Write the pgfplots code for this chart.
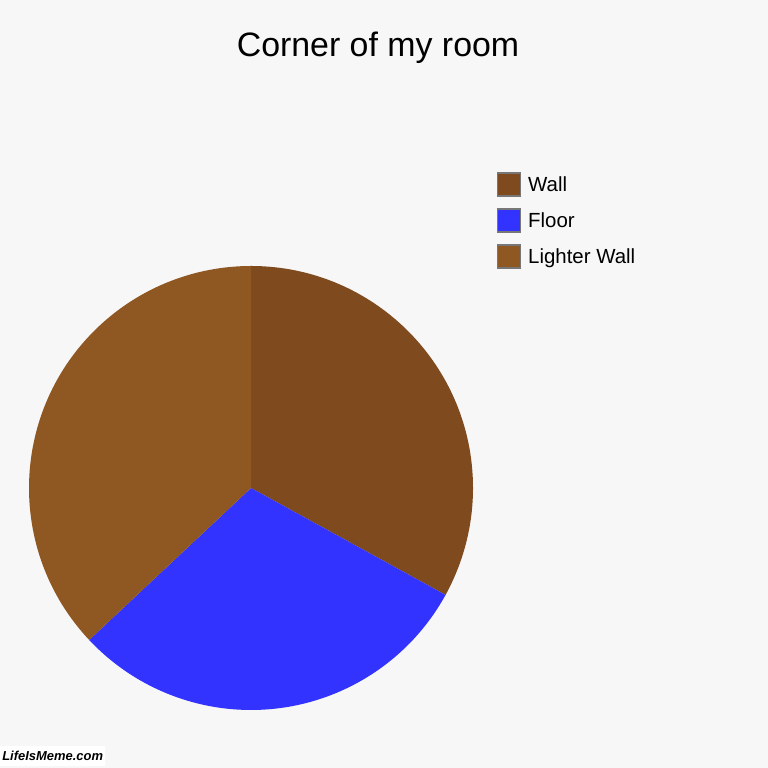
\documentclass[border=0pt]{standalone}
\usepackage{fontspec}
\setmainfont{Liberation Sans}
\usepackage{pgfplots}
\usepackage{pgfplotstable}
\pgfplotsset{compat=1.18}

\definecolor{bgc}{HTML}{F7F7F7}
\definecolor{wallc}{HTML}{7F4A1E}
\definecolor{floorc}{HTML}{3333FF}
\definecolor{lightc}{HTML}{8F5722}
\definecolor{boxc}{HTML}{777777}

% pie shares, clockwise from 12 o'clock
\pgfplotstableread{
label value color
Wall 33 wallc
Floor 30 floorc
{Lighter Wall} 37 lightc
}\piedata

\begin{document}
\begin{tikzpicture}[x=1bp,y=1bp]
\fill[bgc] (0,0) rectangle (768,768);
\begin{axis}[
    at={(0,0)}, anchor=south west,
    scale only axis, width=768bp, height=768bp,
    xmin=0, xmax=768, ymin=0, ymax=768,
    hide axis, clip=false,
]
\pgfplotsextra{
    \gdef\startang{90}
    \foreach \i in {0,1,2}{
        \pgfplotstablegetelem{\i}{value}\of\piedata
        \let\v\pgfplotsretval
        \pgfplotstablegetelem{\i}{color}\of\piedata
        \let\c\pgfplotsretval
        \pgfplotstablegetelem{\i}{label}\of\piedata
        \let\l\pgfplotsretval
        \pgfmathsetmacro\endang{\startang-3.6*\v}
        \fill[fill=\c] (axis cs:251,280) -- +(\startang:222bp)
            arc[start angle=\startang, end angle=\endang, radius=222bp] -- cycle;
        \xdef\startang{\endang}
        % legend row
        \pgfmathsetmacro\ytop{595-36*\i}
        \pgfmathsetmacro\ybase{576-36*\i}
        \draw[fill=\c, draw=boxc, line width=1.3bp]
            (axis cs:497.6,\ytop) rectangle (axis cs:520.6,\ytop-23);
        \node[anchor=base west, inner sep=0pt, font=\fontsize{20.5}{24}\selectfont]
            at (axis cs:528,\ybase) {\l};
    }
}
\node[anchor=base, font=\fontsize{34}{40}\selectfont] at (axis cs:378,711) {Corner of my room};
\end{axis}
\node[anchor=south west, fill=white, inner sep=0pt, minimum width=105bp, minimum height=20bp,
      font=\fontsize{13}{15}\selectfont\bfseries\itshape] at (0,2) {LifeIsMeme.com};
\end{tikzpicture}
\end{document}
